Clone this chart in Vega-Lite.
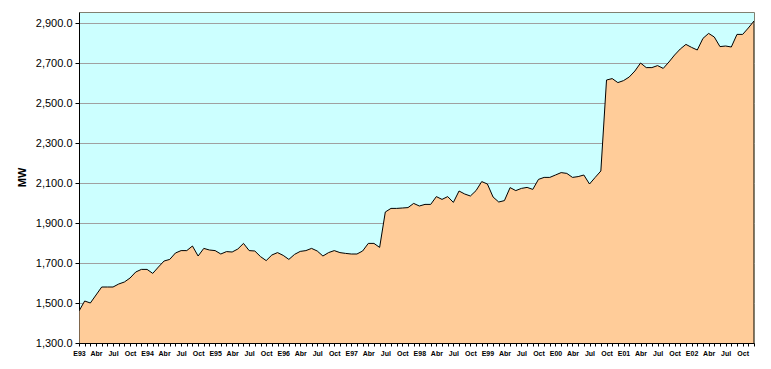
{
  "$schema": "https://vega.github.io/schema/vega-lite/v6.json",
  "autosize": "none",
  "width": 675,
  "height": 331,
  "padding": {"left": 79, "top": 12, "right": 17, "bottom": 26},
  "background": "white",
  "config": {
    "view": {"fill": "#CCFFFF", "stroke": "#808070", "strokeWidth": 1},
    "axis": {"labelFont": "Liberation Sans", "titleFont": "Liberation Sans", "labelColor": "black", "domainColor": "black", "tickColor": "black"}
  },
  "data": {"values": [
    {"m":"1993-01","mw":1460},{"m":"1993-02","mw":1510},{"m":"1993-03","mw":1500},{"m":"1993-04","mw":1540},{"m":"1993-05","mw":1580},{"m":"1993-06","mw":1580},{"m":"1993-07","mw":1580},{"m":"1993-08","mw":1595},{"m":"1993-09","mw":1605},{"m":"1993-10","mw":1625},{"m":"1993-11","mw":1655},{"m":"1993-12","mw":1668},
    {"m":"1994-01","mw":1668},{"m":"1994-02","mw":1648},{"m":"1994-03","mw":1680},{"m":"1994-04","mw":1710},{"m":"1994-05","mw":1718},{"m":"1994-06","mw":1750},{"m":"1994-07","mw":1762},{"m":"1994-08","mw":1762},{"m":"1994-09","mw":1785},{"m":"1994-10","mw":1735},{"m":"1994-11","mw":1773},{"m":"1994-12","mw":1765},
    {"m":"1995-01","mw":1762},{"m":"1995-02","mw":1745},{"m":"1995-03","mw":1757},{"m":"1995-04","mw":1755},{"m":"1995-05","mw":1770},{"m":"1995-06","mw":1798},{"m":"1995-07","mw":1762},{"m":"1995-08","mw":1760},{"m":"1995-09","mw":1732},{"m":"1995-10","mw":1712},{"m":"1995-11","mw":1740},{"m":"1995-12","mw":1752},
    {"m":"1996-01","mw":1738},{"m":"1996-02","mw":1718},{"m":"1996-03","mw":1743},{"m":"1996-04","mw":1758},{"m":"1996-05","mw":1762},{"m":"1996-06","mw":1773},{"m":"1996-07","mw":1760},{"m":"1996-08","mw":1735},{"m":"1996-09","mw":1752},{"m":"1996-10","mw":1762},{"m":"1996-11","mw":1752},{"m":"1996-12","mw":1748},
    {"m":"1997-01","mw":1745},{"m":"1997-02","mw":1745},{"m":"1997-03","mw":1760},{"m":"1997-04","mw":1798},{"m":"1997-05","mw":1798},{"m":"1997-06","mw":1778},{"m":"1997-07","mw":1955},{"m":"1997-08","mw":1973},{"m":"1997-09","mw":1973},{"m":"1997-10","mw":1975},{"m":"1997-11","mw":1977},{"m":"1997-12","mw":1998},
    {"m":"1998-01","mw":1985},{"m":"1998-02","mw":1993},{"m":"1998-03","mw":1993},{"m":"1998-04","mw":2032},{"m":"1998-05","mw":2018},{"m":"1998-06","mw":2032},{"m":"1998-07","mw":2003},{"m":"1998-08","mw":2060},{"m":"1998-09","mw":2045},{"m":"1998-10","mw":2035},{"m":"1998-11","mw":2062},{"m":"1998-12","mw":2107},
    {"m":"1999-01","mw":2095},{"m":"1999-02","mw":2030},{"m":"1999-03","mw":2005},{"m":"1999-04","mw":2012},{"m":"1999-05","mw":2077},{"m":"1999-06","mw":2062},{"m":"1999-07","mw":2073},{"m":"1999-08","mw":2078},{"m":"1999-09","mw":2068},{"m":"1999-10","mw":2118},{"m":"1999-11","mw":2128},{"m":"1999-12","mw":2128},
    {"m":"2000-01","mw":2140},{"m":"2000-02","mw":2152},{"m":"2000-03","mw":2148},{"m":"2000-04","mw":2128},{"m":"2000-05","mw":2132},{"m":"2000-06","mw":2140},{"m":"2000-07","mw":2095},{"m":"2000-08","mw":2128},{"m":"2000-09","mw":2160},{"m":"2000-10","mw":2615},{"m":"2000-11","mw":2622},{"m":"2000-12","mw":2602},
    {"m":"2001-01","mw":2612},{"m":"2001-02","mw":2630},{"m":"2001-03","mw":2660},{"m":"2001-04","mw":2700},{"m":"2001-05","mw":2677},{"m":"2001-06","mw":2677},{"m":"2001-07","mw":2687},{"m":"2001-08","mw":2673},{"m":"2001-09","mw":2705},{"m":"2001-10","mw":2740},{"m":"2001-11","mw":2770},{"m":"2001-12","mw":2793},
    {"m":"2002-01","mw":2778},{"m":"2002-02","mw":2765},{"m":"2002-03","mw":2823},{"m":"2002-04","mw":2848},{"m":"2002-05","mw":2830},{"m":"2002-06","mw":2782},{"m":"2002-07","mw":2785},{"m":"2002-08","mw":2780},{"m":"2002-09","mw":2843},{"m":"2002-10","mw":2843},{"m":"2002-11","mw":2875},{"m":"2002-12","mw":2910}
  ]},
  "mark": {"type": "area", "fill": "#FFCC99", "fillOpacity": 1, "stroke": "black", "strokeWidth": 1, "clip": true},
  "encoding": {
    "x": {
      "field": "m", "type": "ordinal", "sort": "ascending",
      "scale": {"type": "point", "padding": 0},
      "axis": {
        "title": null, "grid": false, "labelAngle": 0, "labelFontSize": 7, "labelFontWeight": "bold",
        "labelOverlap": false, "labelFlush": false, "tickSize": 3, "labelPadding": 3,
        "labelExpr": "substring(datum.value,5,7)=='01' ? 'E'+substring(datum.value,2,4) : substring(datum.value,5,7)=='04' ? 'Abr' : substring(datum.value,5,7)=='07' ? 'Jul' : substring(datum.value,5,7)=='10' ? 'Oct' : ''"
      }
    },
    "y": {
      "field": "mw", "type": "quantitative",
      "scale": {"domain": [1300, 2955], "nice": false, "zero": false},
      "axis": {
        "title": "MW", "titleFontSize": 11, "titleFontWeight": "bold", "titleAngle": -90,
        "titleX": -54, "titleY": 165, "titleAlign": "center", "titleBaseline": "alphabetic",
        "values": [1300, 1500, 1700, 1900, 2100, 2300, 2500, 2700, 2900],
        "format": ",.1f", "labelFontSize": 11, "tickSize": 4, "labelPadding": 3,
        "grid": true, "gridColor": "#A0A0A0", "gridWidth": 1
      }
    }
  }
}
